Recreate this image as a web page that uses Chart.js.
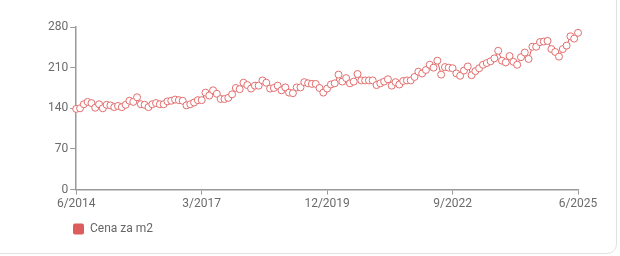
<!DOCTYPE html>
<html>
<head>
<meta charset="utf-8">
<script src="https://cdn.jsdelivr.net/npm/chart.js@4"></script>
<style>
  html, body { margin: 0; padding: 0; background: #fff; }
  .card { position: absolute; left: -12px; top: -12px; width: 629px; height: 266px; border: 1px solid #e2e2e2; border-radius: 10px; box-sizing: border-box; }
  .wrap { position: absolute; left: 0; top: 0; width: 620px; height: 252px; }
</style>
</head>
<body>
<div class="card"></div>
<div class="wrap"><canvas id="c"></canvas></div>
<script>
// Monthly labels 6/2014 .. 6/2025
const months = [];
for (let y = 2014, m = 6; y < 2025 || (y === 2025 && m <= 6); ) {
  months.push(m + '/' + y);
  m++; if (m > 12) { m = 1; y++; }
}
const seriesName = 'Cena za m2';
const values = [
  139,140,147,151,149,141,147,140,146,145,142,144,142,146,153,151,159,147,146,142,
  147,149,147,147,152,153,155,154,153,145,147,150,154,154,167,162,171,165,156,156,
  158,164,175,173,184,180,174,179,179,188,184,174,175,179,171,176,167,166,176,176,
  185,183,182,182,175,167,174,181,183,198,186,192,183,186,199,188,188,188,188,180,
  183,186,190,179,185,181,187,188,188,194,203,200,206,215,210,222,198,211,210,209,
  200,196,205,212,197,204,209,215,218,221,226,239,222,219,230,220,215,228,236,225,
  246,246,254,255,256,242,237,229,242,248,264,260,270
];
const yTicks = [0, 70, 140, 210, 280];
const xTickStep = 33;

const red = 'rgb(221,92,92)';
const points = values.map((v, i) => ({ x: i, y: v }));

const shiftLegend = {
  id: 'shiftLegend',
  afterLayout(chart) {
    const lg = chart.legend;
    if (lg) { lg.left += 17; lg.right += 17; }
  }
};

new Chart(document.getElementById('c'), {
  type: 'line',
  data: {
    datasets: [{
      label: seriesName,
      data: points,
      borderColor: red,
      backgroundColor: red,
      borderWidth: 1,
      pointRadius: 3.5,
      pointHoverRadius: 3.5,
      pointBorderWidth: 1,
      pointBorderColor: 'rgb(226,110,110)',
      pointBackgroundColor: '#fff',
      fill: false,
      clip: false,
      tension: 0
    }]
  },
  plugins: [shiftLegend],
  options: {
    responsive: true,
    maintainAspectRatio: false,
    animation: false,
    layout: { padding: { left: 46, right: 42, top: 27, bottom: 7 } },
    plugins: {
      tooltip: { enabled: false },
      legend: {
        position: 'bottom',
        align: 'start',
        labels: {
          boxWidth: 11, boxHeight: 11, useBorderRadius: true, borderRadius: 2,
          color: '#666', font: { family: 'Roboto', size: 12 }, padding: 10,
          generateLabels: (chart) => [{ text: seriesName, fillStyle: red, strokeStyle: red, lineWidth: 0, datasetIndex: 0, borderRadius: 2, fontColor: '#666' }]
        }
      }
    },
    scales: {
      x: {
        type: 'linear',
        min: 0, max: months.length - 1,
        afterBuildTicks: (s) => { s.ticks = months.map((m, i) => ({ value: i })).filter(t => t.value % xTickStep === 0); },
        ticks: { callback: (v) => months[v], color: '#6b6b6b', font: { family: 'Roboto', size: 12 }, maxRotation: 0, padding: 2 },
        grid: { drawOnChartArea: false, drawTicks: true, tickLength: 5, color: '#999', lineWidth: 1 },
        border: { color: '#999', width: 1.5 }
      },
      y: {
        min: 0, max: 280,
        afterBuildTicks: (s) => { s.ticks = yTicks.map(v => ({ value: v })); },
        ticks: { color: '#6b6b6b', font: { family: 'Roboto', size: 12 }, padding: 2 },
        grid: { drawOnChartArea: false, drawTicks: true, tickLength: 6, color: '#999', lineWidth: 1 },
        border: { color: '#999', width: 1.5 }
      }
    }
  }
});
</script>
</body>
</html>
